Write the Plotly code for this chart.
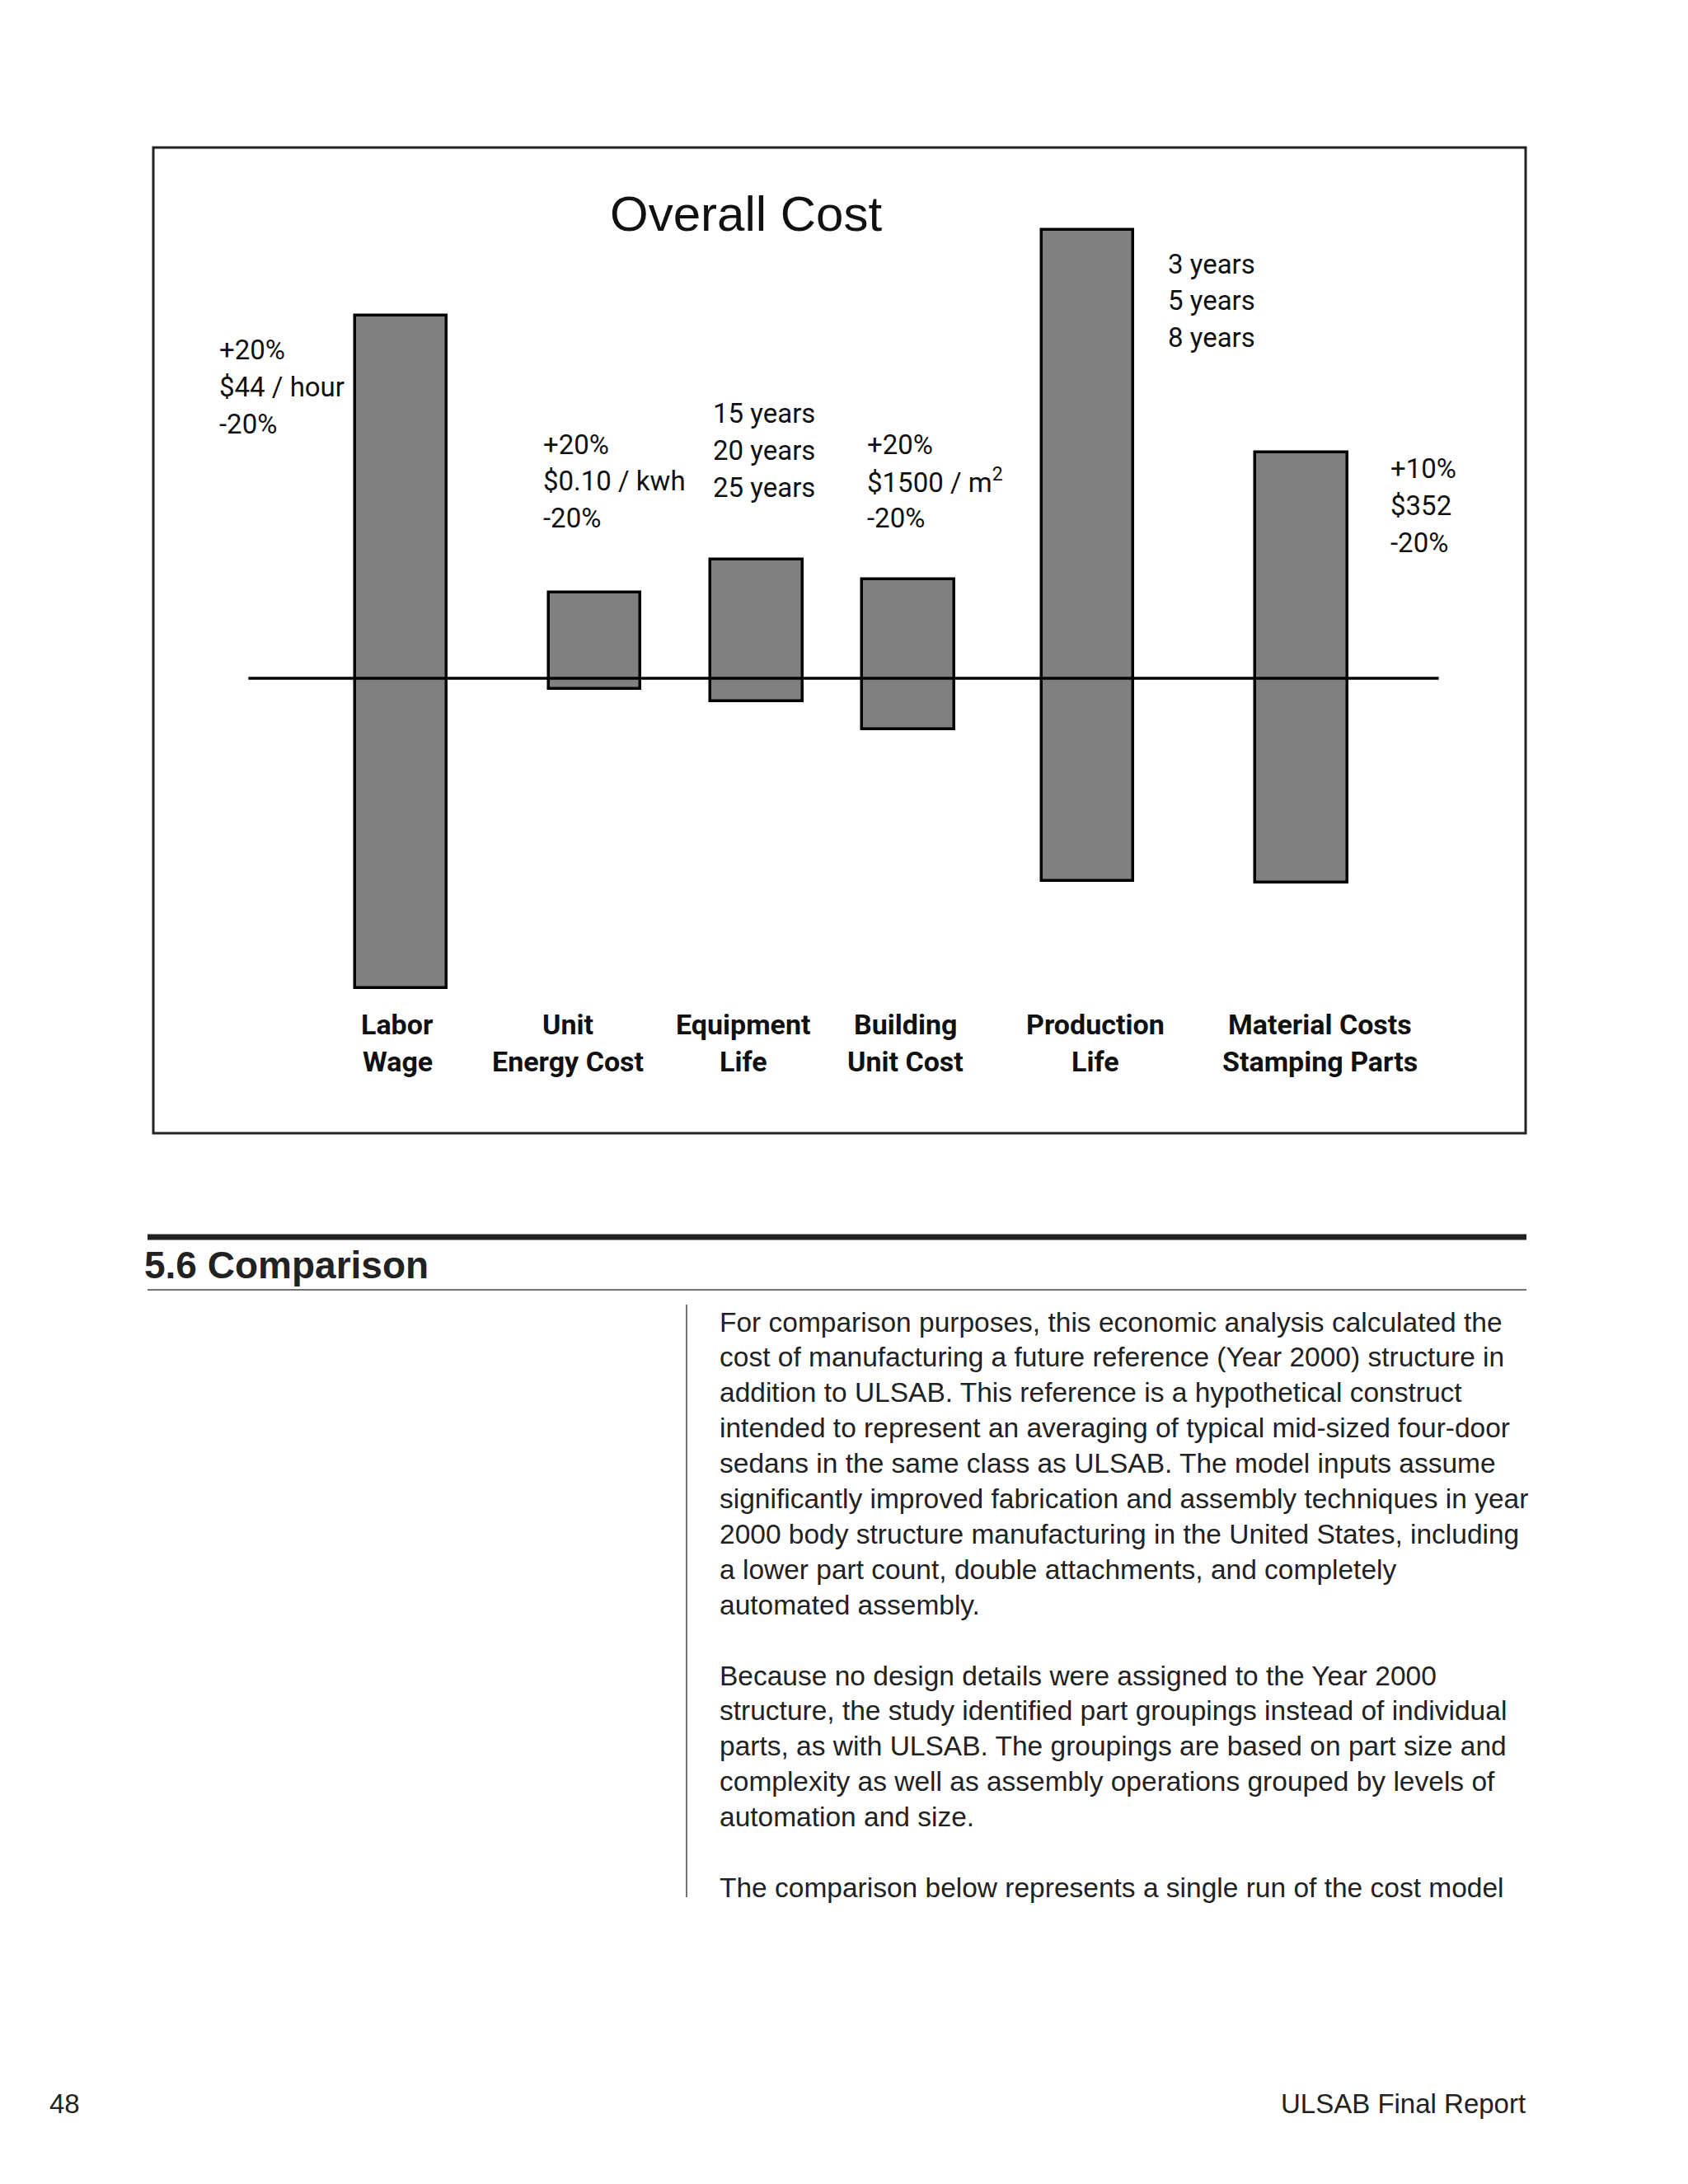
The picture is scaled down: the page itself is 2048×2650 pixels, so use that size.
import plotly.graph_objects as go

# ---------------- data ----------------
categories = [["Labor", "Wage"], ["Unit", "Energy Cost"], ["Equipment", "Life"],
              ["Building", "Unit Cost"], ["Production", "Life"],
              ["Material Costs", "Stamping Parts"]]
cost_high = [26.3, 6.2, 8.6, 7.2, 32.5, 16.4]     # overall cost change, upper end
cost_low = [-22.5, -0.8, -1.7, -3.7, -14.7, -14.8]  # overall cost change, lower end
range_labels = [["+20%", "$44 / hour", "-20%"],
                ["+20%", "$0.10 / kwh", "-20%"],
                ["15 years", "20 years", "25 years"],
                ["+20%", "$1500 / m<sup>2</sup>", "-20%"],
                ["3 years", "5 years", "8 years"],
                ["+10%", "$352", "-20%"]]
title_text = "Overall Cost"

heading = "5.6 Comparison"
body_lines = [
    "For comparison purposes, this economic analysis calculated the",
    "cost of manufacturing a future reference (Year 2000) structure in",
    "addition to ULSAB. This reference is a hypothetical construct",
    "intended to represent an averaging of typical mid-sized four-door",
    "sedans in the same class as ULSAB. The model inputs assume",
    "significantly improved fabrication and assembly techniques in year",
    "2000 body structure manufacturing in the United States, including",
    "a lower part count, double attachments, and completely",
    "automated assembly.",
    "",
    "Because no design details were assigned to the Year 2000",
    "structure, the study identified part groupings instead of individual",
    "parts, as with ULSAB. The groupings are based on part size and",
    "complexity as well as assembly operations grouped by levels of",
    "automation and size.",
    "",
    "The comparison below represents a single run of the cost model",
]
page_number = "48"
footer_right = "ULSAB Final Report"

# ---------------- layout constants ----------------
BODY_MARGIN = 8                        # default html body margin
W, H = 2030, 2600                      # figure size (fits inside the window)
BOX = (186, 179, 1851, 1375)          # chart frame in page px (l, t, r, b)
SLOT_X = [18.04, 32.16, 43.97, 55.03, 68.09, 83.67]  # bar slot centres (axis units)
BAR_W = 6.7
RANGE_POS = [(264, 425), (657, 539), (863, 502), (1050, 539), (1415, 320), (1685, 569)]
CAT_X = [482, 689, 902, 1098, 1329, 1601]
CAT_Y = 1243
LINE_GAP = 44.6
NARROW = "Roboto, Liberation Sans Narrow, sans-serif"
SANS = "Liberation Sans, Arial, Helvetica, sans-serif"


def px(x):
    return (x - BODY_MARGIN) / W


def py(y):
    return 1 - (y - BODY_MARGIN) / H


fig = go.Figure()
fig.add_trace(go.Bar(
    x=SLOT_X,
    y=[h - l for h, l in zip(cost_high, cost_low)],
    base=cost_low,
    width=BAR_W,
    marker=dict(color="#808080", line=dict(color="#000000", width=3.5)),
    hoverinfo="skip",
    showlegend=False,
))

ann = []
# title
ann.append(dict(x=px(905), y=py(259), xref="paper", yref="paper", text=title_text,
                showarrow=False, xanchor="center", yanchor="middle",
                font=dict(family=SANS, size=60, color="#111")))
# range labels
for lines, (lx, ly) in zip(range_labels, RANGE_POS):
    for i, t in enumerate(lines):
        ann.append(dict(x=px(lx), y=py(ly + i * LINE_GAP), xref="paper", yref="paper",
                        text=t, showarrow=False, xanchor="left", yanchor="middle",
                        font=dict(family=NARROW, size=33, color="#111")))
# category labels
for lines, cx in zip(categories, CAT_X):
    for i, t in enumerate(lines):
        ann.append(dict(x=px(cx), y=py(CAT_Y + i * 45), xref="paper", yref="paper",
                        text="<b>%s</b>" % t, showarrow=False, xanchor="center",
                        yanchor="middle",
                        font=dict(family=NARROW, size=34, color="#111")))
# heading
ann.append(dict(x=px(173), y=py(1535), xref="paper", yref="paper",
                text="<b>%s</b>" % heading, showarrow=False, xanchor="left",
                yanchor="middle", font=dict(family=SANS, size=46, color="#222")))
# body text
for i, t in enumerate(body_lines):
    if not t:
        continue
    ann.append(dict(x=px(871), y=py(1604 + i * 42.9), xref="paper", yref="paper",
                    text=t, showarrow=False, xanchor="left", yanchor="middle",
                    font=dict(family=SANS, size=33.5, color="#222")))
# footer
ann.append(dict(x=px(58), y=py(2552), xref="paper", yref="paper", text=page_number,
                showarrow=False, xanchor="left", yanchor="middle",
                font=dict(family=SANS, size=33, color="#222")))
ann.append(dict(x=px(1853), y=py(2552), xref="paper", yref="paper", text=footer_right,
                showarrow=False, xanchor="right", yanchor="middle",
                font=dict(family=SANS, size=33, color="#222")))

shapes = [
    # chart frame
    dict(type="rect", xref="paper", yref="paper", x0=px(BOX[0]), x1=px(BOX[2]),
         y0=py(BOX[3]), y1=py(BOX[1]), line=dict(color="#222", width=3)),
    # zero line
    dict(type="line", xref="x", yref="y", x0=6.93, x1=93.67, y0=0, y1=0,
         line=dict(color="#000", width=3.5), layer="above"),
    # thick rule above heading
    dict(type="line", xref="paper", yref="paper", x0=px(179), x1=px(1852),
         y0=py(1501), y1=py(1501), line=dict(color="#222", width=7)),
    # thin rule below heading
    dict(type="line", xref="paper", yref="paper", x0=px(179), x1=px(1852),
         y0=py(1565), y1=py(1565), line=dict(color="#444", width=1.5)),
    # vertical column rule
    dict(type="line", xref="paper", yref="paper", x0=px(833), x1=px(833),
         y0=py(1583), y1=py(2302), line=dict(color="#444", width=1.5)),
]

fig.update_layout(
    width=W, height=H,
    margin=dict(l=0, r=0, t=0, b=0),
    paper_bgcolor="white", plot_bgcolor="white",
    xaxis=dict(range=[0, 100], domain=[px(BOX[0]), px(BOX[2])], visible=False,
               fixedrange=True),
    yaxis=dict(range=[-33.0, 38.5], domain=[py(BOX[3]), py(BOX[1])], visible=False,
               fixedrange=True),
    annotations=ann,
    shapes=shapes,
    bargap=0,
)

fig.write_html("out.html")
